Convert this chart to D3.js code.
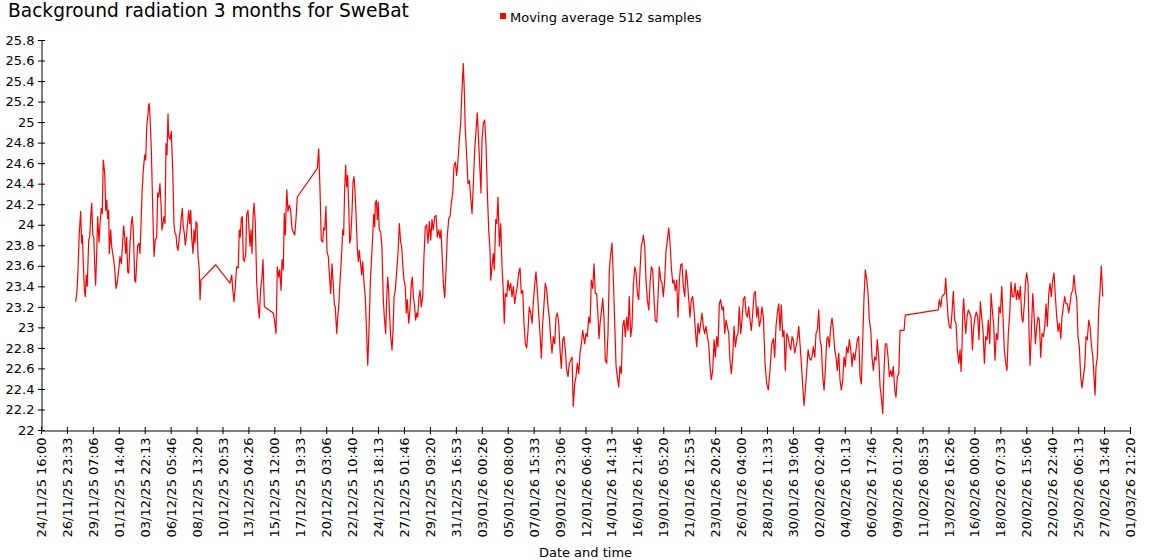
<!DOCTYPE html>
<html>
<head>
<meta charset="utf-8">
<script src="https://cdn.jsdelivr.net/npm/d3@7"></script>
<style>
  body { margin: 0; background: #fff; }
  text { font-family: "DejaVu Sans", Verdana, sans-serif; fill: #000; }
</style>
</head>
<body>
<div id="chart"></div>
<script>
const title = "Background radiation 3 months for SweBat";
const legendLabel = "Moving average 512 samples";
const xTitle = "Date and time";

// axis range, first and last tick
const startTime = Date.UTC(2025, 10, 24, 16, 0);
const endTime = Date.UTC(2026, 2, 1, 21, 20);

const xTickLabels = [
  "24/11/25 16:00","26/11/25 23:33","29/11/25 07:06","01/12/25 14:40","03/12/25 22:13",
  "06/12/25 05:46","08/12/25 13:20","10/12/25 20:53","13/12/25 04:26","15/12/25 12:00",
  "17/12/25 19:33","20/12/25 03:06","22/12/25 10:40","24/12/25 18:13","27/12/25 01:46",
  "29/12/25 09:20","31/12/25 16:53","03/01/26 00:26","05/01/26 08:00","07/01/26 15:33",
  "09/01/26 23:06","12/01/26 06:40","14/01/26 14:13","16/01/26 21:46","19/01/26 05:20",
  "21/01/26 12:53","23/01/26 20:26","26/01/26 04:00","28/01/26 11:33","30/01/26 19:06",
  "02/02/26 02:40","04/02/26 10:13","06/02/26 17:46","09/02/26 01:20","11/02/26 08:53",
  "13/02/26 16:26","16/02/26 00:00","18/02/26 07:33","20/02/26 15:06","22/02/26 22:40",
  "25/02/26 06:13","27/02/26 13:46","01/03/26 21:20"
];

const yTicks = [22,22.2,22.4,22.6,22.8,23,23.2,23.4,23.6,23.8,24,24.2,24.4,24.6,24.8,25,25.2,25.4,25.6,25.8];

// [days since 24/11/25 16:00, moving average]
const samples = [
  [3.10,23.25],[3.19,23.33],[3.28,23.49],[3.42,23.92],[3.54,24.13],[3.63,23.82],[3.69,23.90],[3.78,23.62],
  [3.87,23.36],[3.96,23.30],[4.04,23.51],[4.13,23.40],[4.26,23.85],[4.35,23.88],[4.44,24.08],[4.53,24.21],
  [4.62,23.90],[4.71,23.88],[4.79,23.62],[4.88,23.41],[4.97,23.72],[5.06,24.08],[5.18,23.83],[5.27,24.01],
  [5.38,24.16],[5.47,24.11],[5.56,24.63],[5.69,24.50],[5.78,24.14],[5.87,24.24],[5.95,24.06],[6.04,24.14],
  [6.10,23.72],[6.22,23.95],[6.31,23.79],[6.40,23.72],[6.49,23.66],[6.58,23.56],[6.70,23.38],[6.81,23.44],
  [6.94,23.56],[7.05,23.69],[7.17,23.62],[7.29,23.83],[7.38,23.99],[7.47,23.88],[7.56,23.72],[7.65,23.88],
  [7.74,23.54],[7.83,23.53],[7.95,23.82],[8.06,24.01],[8.15,24.08],[8.24,23.95],[8.37,23.46],[8.45,23.44],
  [8.54,23.62],[8.63,23.80],[8.75,23.82],[8.84,23.72],[8.93,24.01],[9.02,24.31],[9.13,24.53],[9.26,24.68],
  [9.35,24.63],[9.44,24.96],[9.53,25.05],[9.62,25.17],[9.67,25.18],[9.76,24.99],[9.85,24.73],[9.97,24.18],
  [10.09,23.69],[10.20,23.85],[10.33,23.88],[10.42,24.31],[10.51,24.27],[10.62,24.40],[10.71,24.21],[10.80,23.95],
  [10.89,24.01],[10.98,24.08],[11.07,24.01],[11.16,24.79],[11.25,24.68],[11.34,25.08],[11.40,24.86],[11.52,24.83],
  [11.63,24.91],[11.76,24.53],[11.87,24.01],[11.96,23.92],[12.05,23.90],[12.14,23.79],[12.23,23.75],[12.35,23.88],
  [12.44,23.95],[12.53,24.08],[12.62,24.16],[12.70,23.98],[12.79,23.92],[12.88,23.80],[12.97,23.88],[13.06,23.98],
  [13.19,24.14],[13.28,24.01],[13.37,24.14],[13.45,23.88],[13.57,23.72],[13.66,23.95],[13.75,23.82],[13.84,24.03],
  [13.93,24.01],[14.02,23.69],[14.13,23.56],[14.20,23.27],[14.28,23.46],[15.60,23.61],[16.87,23.43],
  [17.03,23.51],[17.11,23.38],[17.23,23.25],[17.32,23.36],[17.47,23.59],[17.61,23.58],[17.70,23.95],[17.79,23.88],
  [17.88,24.06],[17.97,24.08],[18.06,23.67],[18.15,23.64],[18.28,23.72],[18.36,24.10],[18.48,24.14],[18.57,23.95],
  [18.66,23.79],[18.75,23.95],[18.84,23.72],[18.93,24.08],[19.02,24.21],[19.13,24.03],[19.26,23.43],[19.37,23.23],
  [19.49,23.09],[19.61,23.38],[19.73,23.49],[19.82,23.66],[19.94,23.20],[20.74,23.14],[20.86,23.06],[20.98,22.94],
  [21.10,23.59],[21.22,23.49],[21.31,23.56],[21.43,23.36],[21.52,23.66],[21.63,23.56],[21.72,24.11],[21.81,23.90],
  [21.94,24.34],[22.05,24.13],[22.17,24.19],[22.29,24.14],[22.41,23.96],[22.53,23.93],[22.65,23.90],[22.77,24.06],
  [22.88,24.27],[24.67,24.55],[24.79,24.74],[24.91,24.34],[25.02,23.85],[25.15,23.83],[25.24,23.97],[25.33,23.95],
  [25.44,24.18],[25.53,23.74],[25.65,23.69],[25.78,23.46],[25.86,23.33],[25.98,23.62],[26.07,23.46],[26.19,23.22],
  [26.27,23.20],[26.40,22.94],[26.49,23.10],[26.58,23.20],[26.69,23.43],[26.81,23.66],[26.94,23.95],[27.02,23.90],
  [27.11,24.34],[27.20,24.58],[27.29,24.37],[27.38,24.48],[27.47,24.18],[27.56,23.82],[27.65,23.87],[27.77,24.14],
  [27.86,24.42],[27.94,24.47],[28.03,24.34],[28.12,24.11],[28.24,23.77],[28.33,23.64],[28.42,23.75],[28.51,23.64],
  [28.63,23.51],[28.72,23.64],[28.84,23.43],[28.95,23.30],[29.08,22.91],[29.17,22.63],[29.28,22.97],[29.40,23.43],
  [29.52,23.69],[29.61,23.88],[29.70,24.10],[29.79,23.98],[29.85,24.21],[29.94,24.24],[30.03,24.05],[30.11,24.22],
  [30.20,23.95],[30.33,23.93],[30.44,23.77],[30.56,23.27],[30.65,23.10],[30.77,22.94],[30.86,23.27],[30.95,23.49],
  [31.04,23.36],[31.13,23.10],[31.22,22.91],[31.34,22.78],[31.43,22.97],[31.52,23.30],[31.63,23.36],[31.76,23.56],
  [31.87,23.72],[31.99,24.01],[32.11,23.83],[32.20,23.79],[32.29,23.62],[32.41,23.46],[32.52,23.40],[32.61,23.14],
  [32.70,23.27],[32.83,23.04],[32.94,23.17],[33.06,23.43],[33.15,23.49],[33.24,23.30],[33.33,23.23],[33.45,23.07],
  [33.54,23.14],[33.63,23.10],[33.75,23.30],[33.84,23.36],[33.95,23.20],[34.08,23.30],[34.19,23.69],[34.31,23.98],
  [34.43,24.00],[34.55,23.82],[34.67,24.03],[34.79,23.85],[34.91,24.05],[35.02,23.95],[35.15,24.08],[35.27,24.09],
  [35.38,23.88],[35.51,23.95],[35.62,23.87],[35.71,23.95],[35.83,23.66],[35.92,23.43],[36.04,23.29],[36.16,23.56],
  [36.27,23.88],[36.40,24.06],[36.52,24.08],[36.63,24.21],[36.76,24.31],[36.87,24.57],[36.99,24.61],[37.11,24.48],
  [37.23,24.63],[37.35,24.83],[37.47,24.99],[37.56,25.25],[37.70,25.57],[37.79,25.31],[37.88,24.92],[38.01,24.66],
  [38.12,24.40],[38.24,24.43],[38.36,24.27],[38.48,24.11],[38.60,24.40],[38.72,24.73],[38.84,24.92],[38.95,25.09],
  [39.08,24.79],[39.19,24.53],[39.28,24.31],[39.37,24.83],[39.49,24.99],[39.61,25.02],[39.73,24.79],[39.85,24.31],
  [39.97,23.95],[40.09,23.75],[40.15,23.46],[40.26,23.59],[40.38,23.72],[40.47,23.56],[40.60,24.05],[40.69,24.01],
  [40.80,24.27],[40.92,23.79],[41.04,24.01],[41.16,23.59],[41.27,23.36],[41.36,23.04],[41.45,23.33],[41.58,23.30],
  [41.69,23.46],[41.81,23.36],[41.93,23.43],[42.05,23.30],[42.17,23.40],[42.29,23.23],[42.41,23.33],[42.52,23.40],
  [42.65,23.53],[42.76,23.58],[42.88,23.33],[43.01,23.36],[43.12,23.04],[43.24,22.84],[43.36,22.80],[43.48,22.97],
  [43.59,23.20],[43.72,23.14],[43.84,23.04],[43.95,23.23],[44.08,23.43],[44.19,23.54],[44.31,23.36],[44.43,23.14],
  [44.55,22.94],[44.67,22.70],[44.79,23.04],[44.91,23.23],[45.02,23.43],[45.15,23.36],[45.27,23.20],[45.38,23.10],
  [45.51,22.88],[45.62,22.75],[45.74,22.91],[45.86,22.84],[45.98,23.10],[46.10,23.14],[46.22,23.04],[46.34,22.78],
  [46.45,22.60],[46.58,22.88],[46.69,22.91],[46.81,22.78],[46.93,22.58],[47.05,22.52],[47.17,22.65],[47.29,22.68],
  [47.41,22.71],[47.52,22.23],[47.65,22.45],[47.76,22.52],[47.88,22.65],[48.01,22.55],[48.12,22.75],[48.24,22.84],
  [48.36,22.97],[48.48,22.88],[48.54,22.84],[48.66,22.94],[48.77,22.91],[48.90,23.10],[49.02,23.04],[49.13,23.46],
  [49.26,23.38],[49.37,23.62],[49.49,23.33],[49.61,23.33],[49.73,23.10],[49.82,22.89],[49.91,23.04],[50.02,23.14],
  [50.15,23.28],[50.26,23.10],[50.38,22.68],[50.50,22.65],[50.62,22.94],[50.74,23.56],[50.86,23.72],[50.98,23.82],
  [51.10,23.46],[51.22,23.04],[51.34,22.62],[51.45,22.52],[51.58,22.42],[51.69,22.62],[51.81,22.55],[51.93,23.01],
  [52.05,23.07],[52.17,22.91],[52.29,23.10],[52.41,22.97],[52.52,23.30],[52.65,22.91],[52.76,23.01],[52.88,23.40],
  [53.01,23.59],[53.12,23.54],[53.24,23.33],[53.36,23.27],[53.48,23.56],[53.59,23.79],[53.72,23.85],[53.77,23.90],
  [53.90,23.79],[54.01,23.46],[54.13,23.27],[54.26,23.17],[54.37,23.43],[54.49,23.59],[54.61,23.56],[54.73,23.27],
  [54.84,23.07],[54.97,23.05],[55.09,23.30],[55.20,23.59],[55.33,23.46],[55.44,23.43],[55.56,23.30],[55.68,23.46],
  [55.80,23.75],[55.92,23.85],[56.04,23.97],[56.16,23.82],[56.27,23.59],[56.40,23.43],[56.51,23.46],[56.63,23.36],
  [56.75,23.46],[56.87,23.10],[56.99,23.46],[57.11,23.61],[57.23,23.62],[57.34,23.40],[57.47,23.30],[57.59,23.56],
  [57.70,23.46],[57.83,23.27],[57.94,23.10],[58.06,23.27],[58.18,23.30],[58.30,23.17],[58.42,22.97],[58.54,22.81],
  [58.66,23.04],[58.77,22.94],[58.90,23.04],[59.01,23.14],[59.13,23.01],[59.25,22.94],[59.37,23.01],[59.49,22.91],
  [59.61,22.84],[59.73,22.62],[59.84,22.49],[59.97,22.58],[60.09,22.88],[60.20,22.71],[60.33,22.91],[60.44,22.81],
  [60.56,23.23],[60.68,23.27],[60.80,23.17],[60.92,23.20],[61.04,22.94],[61.16,23.07],[61.27,23.01],[61.40,22.94],
  [61.51,22.68],[61.63,22.55],[61.75,22.71],[61.87,23.01],[61.99,22.81],[62.11,22.91],[62.23,22.94],[62.34,23.20],
  [62.47,22.94],[62.58,23.07],[62.70,23.27],[62.83,23.30],[62.94,23.14],[63.06,23.10],[63.18,23.20],[63.30,23.07],
  [63.42,22.97],[63.54,23.14],[63.66,23.33],[63.77,23.35],[63.90,23.10],[64.01,23.20],[64.13,23.01],[64.25,23.07],
  [64.37,23.20],[64.49,23.10],[64.64,22.65],[64.79,22.45],[64.93,22.39],[65.08,22.58],[65.24,22.84],[65.38,22.89],
  [65.50,22.71],[65.62,23.01],[65.74,23.14],[65.86,23.23],[65.98,22.97],[66.09,23.22],[66.22,22.91],[66.33,22.97],
  [66.45,22.58],[66.58,22.94],[66.69,22.91],[66.81,22.83],[66.93,22.78],[67.05,22.91],[67.16,22.88],[67.29,22.75],
  [67.40,22.81],[67.52,22.88],[67.65,23.01],[67.76,22.84],[67.88,22.65],[68.01,22.42],[68.12,22.24],[68.24,22.39],
  [68.36,22.58],[68.48,22.78],[68.59,22.71],[68.72,22.68],[68.83,22.71],[68.95,22.81],[69.08,22.71],[69.19,22.94],
  [69.31,22.97],[69.43,23.17],[69.55,22.88],[69.67,22.81],[69.79,22.52],[69.91,22.39],[70.02,22.58],[70.15,22.88],
  [70.26,22.91],[70.38,22.81],[70.51,23.01],[70.62,23.09],[70.74,22.97],[70.86,22.78],[70.98,22.71],[71.09,22.58],
  [71.22,22.75],[71.33,22.49],[71.45,22.39],[71.58,22.49],[71.69,22.71],[71.81,22.62],[71.93,22.81],[72.05,22.75],
  [72.17,22.88],[72.29,22.78],[72.41,22.62],[72.52,22.75],[72.65,22.68],[72.76,22.78],[72.88,22.88],[73.00,22.91],
  [73.12,22.52],[73.24,22.45],[73.36,22.88],[73.48,23.30],[73.59,23.56],[73.72,23.46],[73.84,23.33],[73.95,23.07],
  [74.08,22.97],[74.19,22.71],[74.31,22.58],[74.43,22.71],[74.55,22.68],[74.66,22.88],[74.79,22.71],[74.91,22.42],
  [75.02,22.32],[75.15,22.16],[75.26,22.58],[75.38,22.84],[75.50,22.84],[75.62,22.71],[75.74,22.52],[75.86,22.58],
  [75.98,22.52],[76.09,22.62],[76.22,22.39],[76.33,22.32],[76.45,22.52],[76.58,22.55],[76.69,22.97],[77.05,22.97],
  [77.16,23.12],[80.11,23.17],[80.20,23.27],[80.33,23.20],[80.44,23.30],[80.68,23.33],[80.77,23.48],[80.86,23.30],
  [80.98,23.10],[81.09,23.01],[81.22,22.99],[81.33,23.14],[81.45,23.35],[81.57,23.07],[81.69,23.04],[81.81,22.78],
  [81.93,22.65],[82.05,22.78],[82.14,22.57],[82.23,22.84],[82.29,23.14],[82.38,23.28],[82.47,23.07],[82.56,22.94],
  [82.67,23.10],[82.79,23.17],[82.91,23.14],[83.03,23.10],[83.15,22.78],[83.27,23.01],[83.39,23.10],[83.50,23.15],
  [83.63,23.10],[83.74,22.88],[83.86,23.25],[83.98,23.10],[84.10,22.97],[84.22,22.65],[84.34,22.91],[84.46,22.88],
  [84.57,23.07],[84.70,22.84],[84.82,23.33],[84.93,23.17],[85.06,23.01],[85.17,22.68],[85.29,22.94],[85.41,22.88],
  [85.53,23.20],[85.65,23.14],[85.77,23.40],[85.89,23.10],[86.00,22.78],[86.13,22.65],[86.24,22.58],[86.36,22.94],
  [86.48,23.12],[86.60,23.44],[86.72,23.30],[86.84,23.30],[86.96,23.43],[87.08,23.27],[87.20,23.36],[87.32,23.27],
  [87.43,23.40],[87.56,23.10],[87.67,23.05],[87.79,23.23],[87.91,23.46],[88.00,23.53],[88.12,23.43],[88.21,22.94],
  [88.30,22.63],[88.41,22.94],[88.54,23.33],[88.65,23.14],[88.77,22.84],[88.90,23.01],[89.01,23.10],[89.13,23.07],
  [89.25,22.71],[89.37,22.94],[89.49,22.91],[89.61,23.01],[89.73,23.23],[89.84,23.01],[89.97,23.33],[90.08,23.43],
  [90.20,23.30],[90.32,23.46],[90.44,23.53],[90.56,23.30],[90.68,23.10],[90.80,22.96],[90.92,23.04],[91.04,22.89],
  [91.15,23.10],[91.27,23.20],[91.39,23.30],[91.51,23.23],[91.63,23.23],[91.75,23.14],[91.87,23.23],[91.98,23.33],
  [92.11,23.36],[92.22,23.51],[92.34,23.36],[92.47,23.27],[92.58,22.91],[92.70,22.81],[92.82,22.52],[92.94,22.41],
  [93.06,22.52],[93.18,22.62],[93.30,22.91],[93.41,22.88],[93.54,23.07],[93.65,23.01],[93.77,22.84],[93.90,22.71],
  [94.01,22.52],[94.10,22.34],[94.19,22.62],[94.31,22.71],[94.43,23.17],[94.53,23.33],[94.66,23.60],[94.79,23.30]
];

// set the dimensions and margins of the graph
var margin = {top: 40, right: 20, bottom: 130, left: 41},
    width = 1089,
    height = 390;

var svg = d3.select("#chart")
  .append("svg")
    .attr("width", 1150)
    .attr("height", 560);

svg.append("text")
  .attr("x", 8)
  .attr("y", 17)
  .style("font-size", "18.6px")
  .text(title);

// legend
svg.append("rect")
  .attr("x", 500).attr("y", 13)
  .attr("width", 6).attr("height", 6)
  .style("fill", "#ff0000");
svg.append("text")
  .attr("x", 510)
  .attr("y", 22)
  .style("font-size", "13px")
  .text(legendLabel);

var plot = svg.append("g")
  .attr("transform", "translate(" + margin.left + "," + margin.top + ")");

var x = d3.scaleUtc()
  .domain([new Date(startTime), new Date(endTime)])
  .range([0, width]);

var y = d3.scaleLinear()
  .domain([22, 25.8])
  .range([height, 0]);

var step = (endTime - startTime) / (xTickLabels.length - 1);
var xTickDates = xTickLabels.map((d, i) => new Date(startTime + i * step));

// x axis: ticks cross the line, labels rotated
var xAxis = plot.append("g")
  .attr("transform", "translate(0," + (height + 0.5) + ")")
  .call(d3.axisBottom(x)
    .tickValues(xTickDates)
    .tickFormat((d, i) => xTickLabels[i])
    .tickSizeOuter(0));
xAxis.selectAll(".tick line").attr("y1", -3.5).attr("y2", 3.5);
xAxis.selectAll(".tick text")
  .attr("transform", "rotate(-90)")
  .attr("x", -7)
  .attr("y", 0)
  .attr("dy", "0.35em")
  .style("text-anchor", "end")
  .style("font-size", "13px");

// y axis
var yAxis = plot.append("g")
  .attr("transform", "translate(0.5,0)")
  .call(d3.axisLeft(y)
    .tickValues(yTicks)
    .tickFormat(d3.format(".1~f"))
    .tickSizeOuter(0));
yAxis.selectAll(".tick line").attr("x1", -3.5).attr("x2", 3.5);
yAxis.selectAll(".tick text")
  .attr("x", -7)
  .style("font-size", "13px");

plot.selectAll(".domain, .tick line").style("stroke", "#000");
plot.selectAll(".tick text").style("fill", "#000").style("font-family", "DejaVu Sans");

svg.append("text")
  .attr("x", margin.left + width / 2)
  .attr("y", 557)
  .style("text-anchor", "middle")
  .style("font-size", "13px")
  .text(xTitle);

// the moving average line
var line = d3.line()
  .x(d => x(new Date(startTime + d[0] * 86400000)))
  .y(d => y(d[1]));

plot.append("path")
  .datum(samples)
  .attr("d", line)
  .style("fill", "none")
  .style("stroke", "#ff0000")
  .style("stroke-width", 1.2)
  .style("stroke-linejoin", "round");
</script>
</body>
</html>
